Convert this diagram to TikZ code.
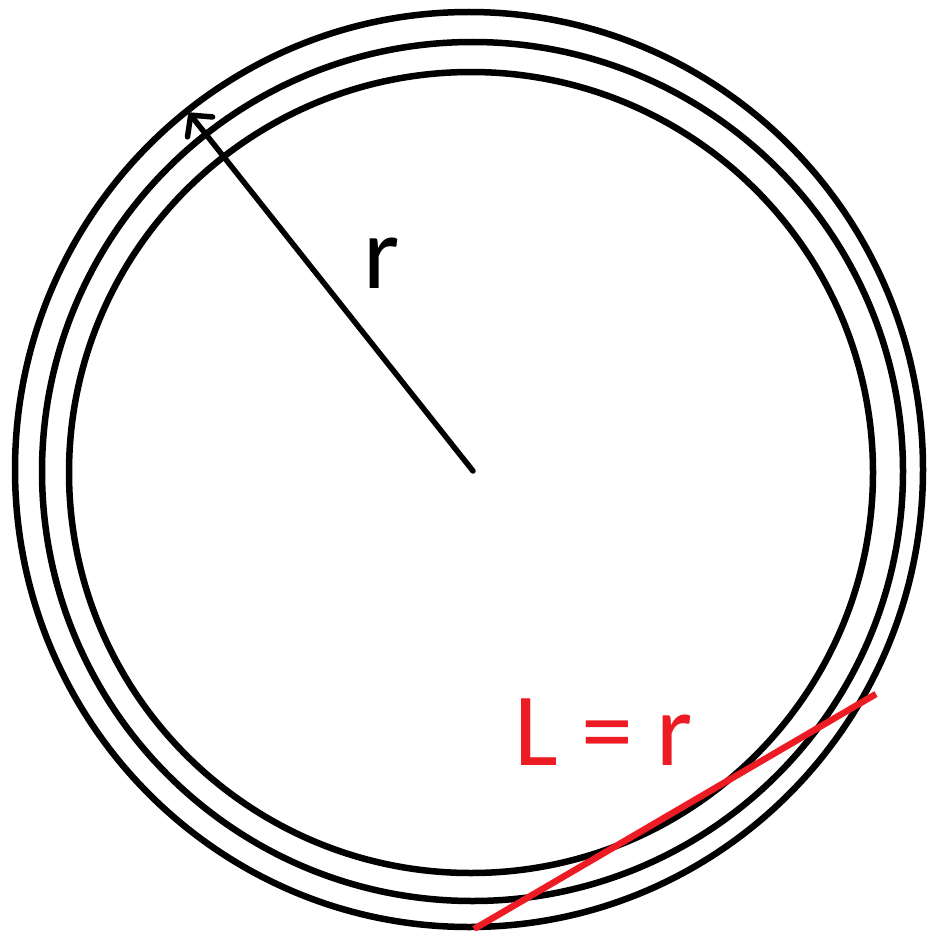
\documentclass[tikz,border=0pt]{standalone}
\usepackage{fontspec}
\setmainfont{Carlito}
\usetikzlibrary{arrows.meta}
\definecolor{paintred}{HTML}{ED1C24}
\begin{document}
\begin{tikzpicture}[x=1pt,y=-1pt,
  ring/.style={draw=black,line width=6.5pt},
  radius/.style={draw=black,line width=5.5pt,line cap=round,
    -{Straight Barb[length=15pt,width=32pt,round]}},
  redline/.style={draw=paintred,line width=6.5pt},
  lbl/.style={font=\fontsize{104}{110}\selectfont,inner sep=0pt,anchor=base west}]
\useasboundingbox (0,0) rectangle (926,931);
\draw[ring] (469,469.5) ellipse [x radius=454, y radius=457.5];
\draw[ring] (472.5,471.5) ellipse [x radius=430.5, y radius=429.5];
\draw[ring] (471,472.5) ellipse [x radius=402, y radius=400.5];
\coordinate (center) at (473,471);
\coordinate (tip) at (189,113);
\draw[radius] (center) -- (tip);
\node[lbl] (r) at (363,288) {r};
\coordinate (a) at (474,929);
\coordinate (b) at (876,694);
\draw[redline] (a) -- (b);
\node[lbl,text=paintred] (L) at (514,765) {L = r};
\end{tikzpicture}
\end{document}
